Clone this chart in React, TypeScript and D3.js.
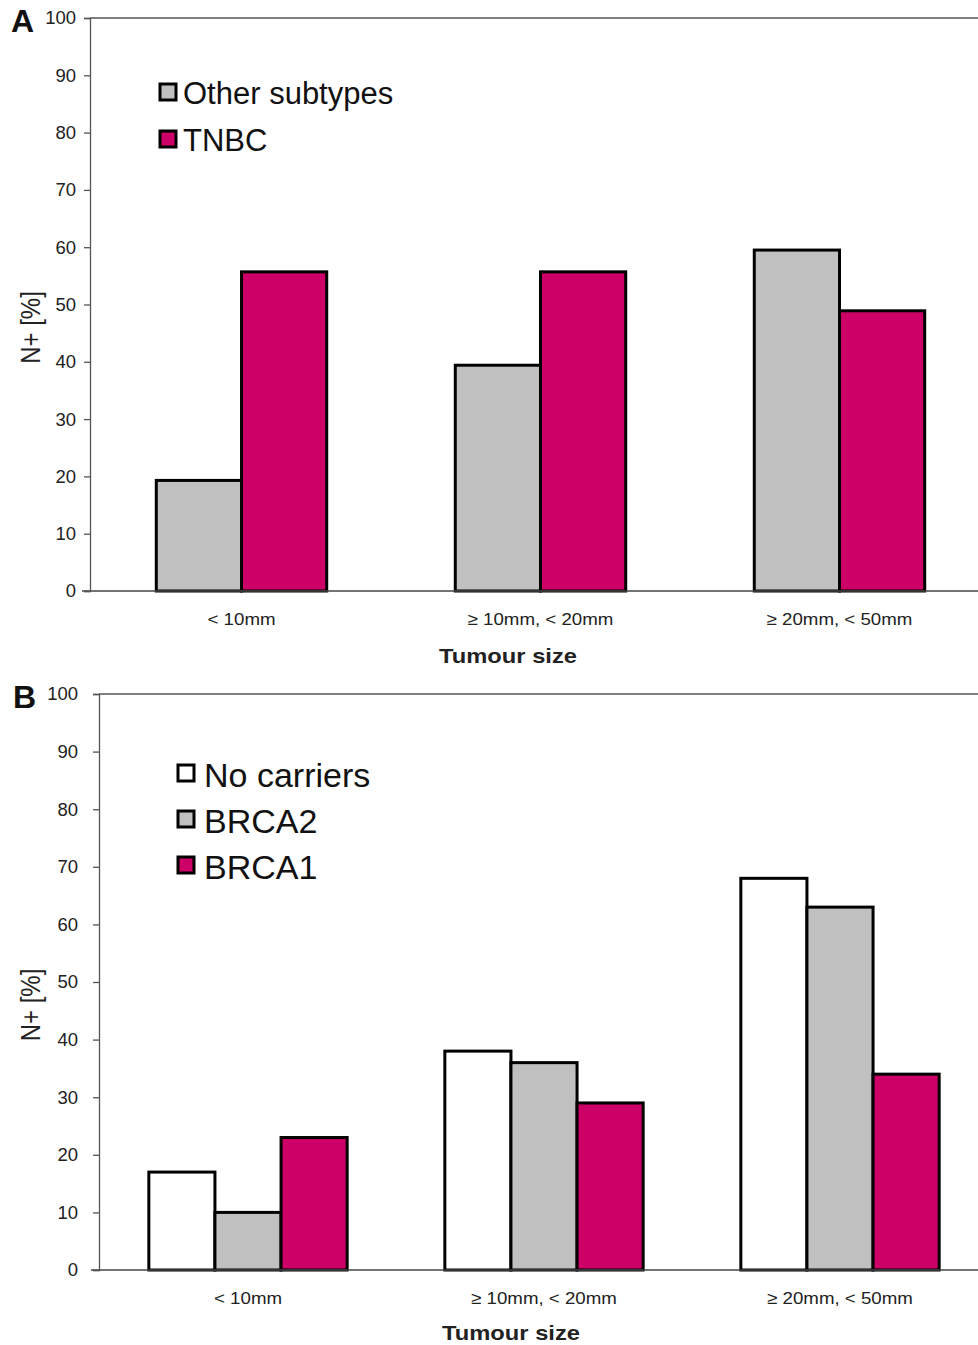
import { useEffect, useRef } from "react";
import * as d3 from "d3";

const categories = ["< 10mm", "\u2265 10mm, < 20mm", "\u2265 20mm, < 50mm"];
const yTicks = [0, 10, 20, 30, 40, 50, 60, 70, 80, 90, 100];

// panel A
const seriesA = ["Other subtypes", "TNBC"];
const otherSubtypes = [19.3, 39.4, 59.5];
const tnbc = [55.7, 55.7, 48.9];

// panel B
const seriesB = ["No carriers", "BRCA2", "BRCA1"];
const noCarriers = [17, 38, 68];
const brca2 = [10, 36, 63];
const brca1 = [23, 29, 34];

const WHITE = "#ffffff";
const GREY = "#c0c0c0";
const PINK = "#cc0066";

const FONT = "'Liberation Sans', Arial, sans-serif";

function drawPanel(svg, opts) {
  const { letter, top, bottom, left, right, shift, values, names, colors, innerPad, legend, titleX, titleDy, tickPad, yTitleX } = opts;
  const g = svg.append("g");

  const y = d3.scaleLinear().domain([0, 100]).range([bottom, top]);
  const x0 = d3.scaleBand().domain(categories).range([left + shift, right + shift]).paddingInner(innerPad).paddingOuter(innerPad / 2);
  const x1 = d3.scaleBand().domain(names).range([0, x0.bandwidth()]);

  // top frame line
  g.append("line")
    .attr("x1", left).attr("x2", right)
    .attr("y1", y(100)).attr("y2", y(100))
    .attr("stroke", "#555").attr("stroke-width", 1.3);

  // bars
  categories.forEach((c, i) => {
    names.forEach((n, j) => {
      g.append("rect")
        .attr("x", x0(c) + x1(n))
        .attr("y", y(values[j][i]))
        .attr("width", x1.bandwidth())
        .attr("height", y(0) - y(values[j][i]))
        .attr("fill", colors[j])
        .attr("stroke", "#000")
        .attr("stroke-width", 3);
    });
  });

  // baseline
  g.append("line")
    .attr("x1", left - 8).attr("x2", right)
    .attr("y1", y(0)).attr("y2", y(0))
    .attr("stroke", "#444").attr("stroke-width", 1.3);

  // y axis
  const yAxis = d3.axisLeft(y).tickValues(yTicks).tickSize(6).tickPadding(tickPad);
  const ya = g.append("g").attr("transform", `translate(${left},0)`).call(yAxis);
  ya.select(".domain").attr("stroke", "#555").attr("stroke-width", 1.3);
  ya.selectAll(".tick line").attr("stroke", "#555").attr("stroke-width", 1.3);
  ya.selectAll(".tick text")
    .attr("font-family", FONT).attr("font-size", 18.5).attr("fill", "#222");

  // x labels
  categories.forEach((c) => {
    g.append("text")
      .attr("transform", `translate(${x0(c) + x0.bandwidth() / 2},${y(0) + 34}) scale(1.1,1)`)
      .attr("text-anchor", "middle")
      .attr("font-family", FONT).attr("font-size", 17).attr("fill", "#222")
      .text(c);
  });

  g.append("text")
    .attr("transform", `translate(${titleX},${y(0) + titleDy}) scale(1.13,1)`)
    .attr("text-anchor", "middle")
    .attr("font-family", FONT).attr("font-size", 21).attr("font-weight", "bold").attr("fill", "#222")
    .text("Tumour size");

  g.append("text")
    .attr("transform", `translate(${yTitleX},${(top + bottom) / 2 + 23}) rotate(-90) scale(1,1.19)`)
    .attr("text-anchor", "middle")
    .attr("font-family", FONT).attr("font-size", 24).attr("fill", "#222")
    .text("N+ [%]");

  g.append("text")
    .attr("x", legend.letterX).attr("y", top + 14)
    .attr("font-family", FONT).attr("font-size", 32).attr("font-weight", "bold").attr("fill", "#111")
    .text(letter);

  // legend
  names.forEach((n, j) => {
    const ly = legend.y + j * legend.step;
    g.append("rect")
      .attr("x", legend.x).attr("y", ly - 9)
      .attr("width", 16).attr("height", 16)
      .attr("fill", colors[j]).attr("stroke", "#000").attr("stroke-width", 3);
    g.append("text")
      .attr("x", legend.tx).attr("y", ly + legend.dy)
      .attr("font-family", FONT).attr("font-size", legend.size).attr("fill", "#111")
      .text(n);
  });
}

export default function App() {
  const svgRef = useRef(null);

  useEffect(() => {
    document.body.style.margin = "0";
    const svg = d3.select(svgRef.current);
    svg.selectAll("*").remove();

    drawPanel(svg, {
      letter: "A",
      top: 18, bottom: 591, left: 90, right: 987, shift: 2,
      values: [otherSubtypes, tnbc],
      names: seriesA,
      colors: [GREY, PINK],
      innerPad: 0.43,
      titleX: 508,
      titleDy: 72,
      tickPad: 8,
      yTitleX: 40,
      legend: { x: 160, tx: 183, y: 93, step: 47, size: 31, dy: 11, letterX: 11 },
    });

    drawPanel(svg, {
      letter: "B",
      top: 694, bottom: 1270, left: 99, right: 987, shift: 1,
      values: [noCarriers, brca2, brca1],
      names: seriesB,
      colors: [WHITE, GREY, PINK],
      innerPad: 0.33,
      titleX: 511,
      titleDy: 70,
      tickPad: 15,
      yTitleX: 40,
      legend: { x: 178, tx: 204, y: 774, step: 46, size: 34, dy: 13, letterX: 13 },
    });
  }, []);

  return <svg ref={svgRef} width={978} height={1345} style={{ display: "block", background: "#fff" }} />;
}
